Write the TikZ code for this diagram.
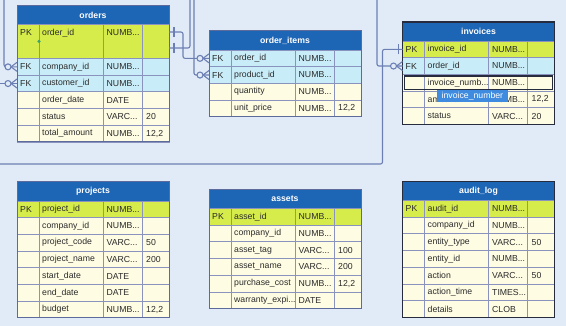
\documentclass[tikz,border=0pt]{standalone}
\usepackage{fontspec}
\setmainfont{Liberation Sans}
\usetikzlibrary{calc}
\definecolor{bg}{HTML}{E1EBF7}
\definecolor{hdrc}{HTML}{1D65B5}
\definecolor{pkc}{HTML}{D5EC4A}
\definecolor{fkc}{HTML}{C9EDF8}
\definecolor{nrm}{HTML}{FEFCE3}
\definecolor{cellc}{HTML}{8A93BD}
\definecolor{edgec}{HTML}{5C6A9C}
\definecolor{darkedge}{HTML}{262C3E}
\definecolor{connc}{HTML}{6C7FB4}
\definecolor{tipc}{HTML}{3E8BDF}
\definecolor{txtc}{HTML}{2B2B2B}
\definecolor{dotc}{HTML}{3FA36B}
\newcommand{\tdots}{.{}.{}.}
\tikzset{
  hdr/.style={fill=hdrc, text=white, font=\fontsize{8.7pt}{10pt}\selectfont\bfseries, minimum width=152pt, minimum height=19pt, inner sep=0pt, outer sep=0pt},
  rowbox/.style={draw=cellc, line width=0.8pt, minimum width=152pt, inner sep=0pt, outer sep=0pt},
  cell/.style={draw=cellc, line width=0.8pt},
  txt/.style={anchor=west, inner sep=0pt, text=txtc, font=\fontsize{8.7pt}{10pt}\selectfont},
  tblnorm/.style={draw=edgec, line width=1pt},
  tbldark/.style={draw=darkedge, line width=1.6pt},
  conn/.style={draw=connc, line width=1.1pt},
  tipstyle/.style={fill=tipc, text=white, inner xsep=4.5pt, inner ysep=1.8pt, font=\fontsize{8.7pt}{10pt}\selectfont},
}
\newcommand{\ertable}[6]{%
  \node[hdr, anchor=north west] (#1-0) at (#2,#3) {#4};
  \foreach \k/\n/\t/\s/\f/\h [count=\i from 1] in {#6} {
    \pgfmathtruncatemacro\j{\i-1}
    \node[rowbox, fill=\f, minimum height=\h pt, anchor=north west] (#1-\i) at (#1-\j.south west) {};
    \draw[cell] ([xshift=22pt]#1-\i.north west) -- ([xshift=22pt]#1-\i.south west)
                ([xshift=86pt]#1-\i.north west) -- ([xshift=86pt]#1-\i.south west)
                ([xshift=125pt]#1-\i.north west) -- ([xshift=125pt]#1-\i.south west);
    \node[txt] (#1-\i-k) at ([shift={(3pt,-8.35pt)}]#1-\i.north west) {\k};
    \node[txt] (#1-\i-n) at ([shift={(25pt,-8.35pt)}]#1-\i.north west) {\n};
    \node[txt] (#1-\i-t) at ([shift={(89.5pt,-8.35pt)}]#1-\i.north west) {\t};
    \node[txt] (#1-\i-s) at ([shift={(129pt,-8.35pt)}]#1-\i.north west) {\s};
    \xdef\lastrow{\i}
  }
  \draw[#5] (#1-0.north west) rectangle (#1-\lastrow.south east);
}
\newcommand{\manyL}[1]{%
  \draw[conn] ([xshift=-6pt]#1) -- ([yshift=4.5pt]#1) ([xshift=-6pt]#1) -- ([yshift=-4.5pt]#1);
  \draw[conn, fill=bg] ([xshift=-9pt]#1) circle (3pt);}
\newcommand{\oneR}[1]{\draw[conn] ([shift={(5pt,5pt)}]#1) -- ([shift={(5pt,-5pt)}]#1);}
\newcommand{\oneL}[1]{\draw[conn] ([shift={(-4pt,5pt)}]#1) -- ([shift={(-4pt,-5pt)}]#1);}
\begin{document}
\begin{tikzpicture}[x=1pt,y=-1pt]
\fill[bg] (0,0) rectangle (566,326);
\useasboundingbox (0,0) rectangle (566,326);
\clip (0,0) rectangle (566,326);

\ertable{ord}{17}{5.5}{orders}{tblnorm}{%
PK/order\_id/NUMB\tdots/{}/pkc/34,
FK/company\_id/NUMB\tdots/{}/fkc/16.7,
FK/customer\_id/NUMB\tdots/{}/fkc/16.7,
{}/order\_date/DATE/{}/nrm/16.7,
{}/status/VARC\tdots/20/nrm/16.7,
{}/total\_amount/NUMB\tdots/{12,2}/nrm/16.7}

\ertable{oit}{209}{31}{order\_items}{tblnorm}{%
FK/order\_id/NUMB\tdots/{}/fkc/16.7,
FK/product\_id/NUMB\tdots/{}/fkc/16.7,
{}/quantity/NUMB\tdots/{}/nrm/16.7,
{}/unit\_price/NUMB\tdots/{12,2}/nrm/16.7}

\ertable{inv}{402.5}{22}{invoices}{tbldark}{%
PK/invoice\_id/NUMB\tdots/{}/pkc/16.7,
FK/order\_id/NUMB\tdots/{}/fkc/16.7,
{}/invoice\_numb\tdots/NUMB\tdots/{}/nrm/16.7,
{}/amount/NUMB\tdots/{12,2}/nrm/16.7,
{}/status/VARC\tdots/20/nrm/16.7}

\ertable{prj}{17}{182}{projects}{tblnorm}{%
PK/project\_id/NUMB\tdots/{}/pkc/16.7,
{}/company\_id/NUMB\tdots/{}/nrm/16.7,
{}/project\_code/VARC\tdots/50/nrm/16.7,
{}/project\_name/VARC\tdots/200/nrm/16.7,
{}/start\_date/DATE/{}/nrm/16.7,
{}/end\_date/DATE/{}/nrm/16.7,
{}/budget/NUMB\tdots/{12,2}/nrm/16.7}

\ertable{ast}{209}{189.5}{assets}{tblnorm}{%
PK/asset\_id/NUMB\tdots/{}/pkc/16.7,
{}/company\_id/NUMB\tdots/{}/nrm/16.7,
{}/asset\_tag/VARC\tdots/100/nrm/16.7,
{}/asset\_name/VARC\tdots/200/nrm/16.7,
{}/purchase\_cost/NUMB\tdots/{12,2}/nrm/16.7,
{}/warranty\_expi\tdots/DATE/{}/nrm/16.7}

\ertable{aud}{402.5}{181.5}{audit\_log}{tbldark}{%
PK/audit\_id/NUMB\tdots/{}/pkc/16.7,
{}/company\_id/NUMB\tdots/{}/nrm/16.7,
{}/entity\_type/VARC\tdots/50/nrm/16.7,
{}/entity\_id/NUMB\tdots/{}/nrm/16.7,
{}/action/VARC\tdots/50/nrm/16.7,
{}/action\_time/TIMES\tdots/{}/nrm/16.7,
{}/details/CLOB/{}/nrm/16.7}

% free ends of connectors
\coordinate (edgeL) at (-2,0);
\coordinate (ordA) at ([yshift=9.5pt]ord-1.east);
\coordinate (ordB) at ([yshift=-6.5pt]ord-1.east);
\coordinate (topA) at (190,-2);
\coordinate (topB) at (194,-2);
\coordinate (topC) at (377,-2);
\coordinate (topD) at (4,-2);
\coordinate (leftA) at (edgeL |- ord-3.west);
\coordinate (leftB) at (-2,164);

\draw[conn, rounded corners=2pt] (topD) |- (ord-2.west);
\draw[conn] (leftA) -- (ord-3.west);
\draw[conn, rounded corners=2pt] (ordA) -| ([xshift=-26pt]oit-1.west) -- (oit-1.west);
\draw[conn, rounded corners=2pt] (ordB) -| (topA);
\draw[conn, rounded corners=2pt] (topB) |- (oit-2.west);
\draw[conn, rounded corners=2pt] (topC) |- (inv-2.west);
\draw[conn, rounded corners=2pt] (leftB) -| ([xshift=-20pt]inv-1.west) -- (inv-1.west);

\manyL{ord-2.west}
\manyL{ord-3.west}
\manyL{oit-1.west}
\manyL{oit-2.west}
\manyL{inv-2.west}
\oneR{ordA}
\oneR{ordB}
\oneL{inv-1.west}

\node[circle, fill=dotc, inner sep=0pt, minimum size=3.5pt] (hdl) at ([xshift=22pt]ord-1.west) {};

\draw[darkedge, line width=1.6pt] ([shift={(2pt,-1.5pt)}]inv-3.north west) rectangle ([shift={(-2pt,1.5pt)}]inv-3.south east);
\node[tipstyle, anchor=west] (tipbox) at ([shift={(34.5pt,3.5pt)}]inv-4.west) {invoice\_number};
\end{tikzpicture}
\end{document}
